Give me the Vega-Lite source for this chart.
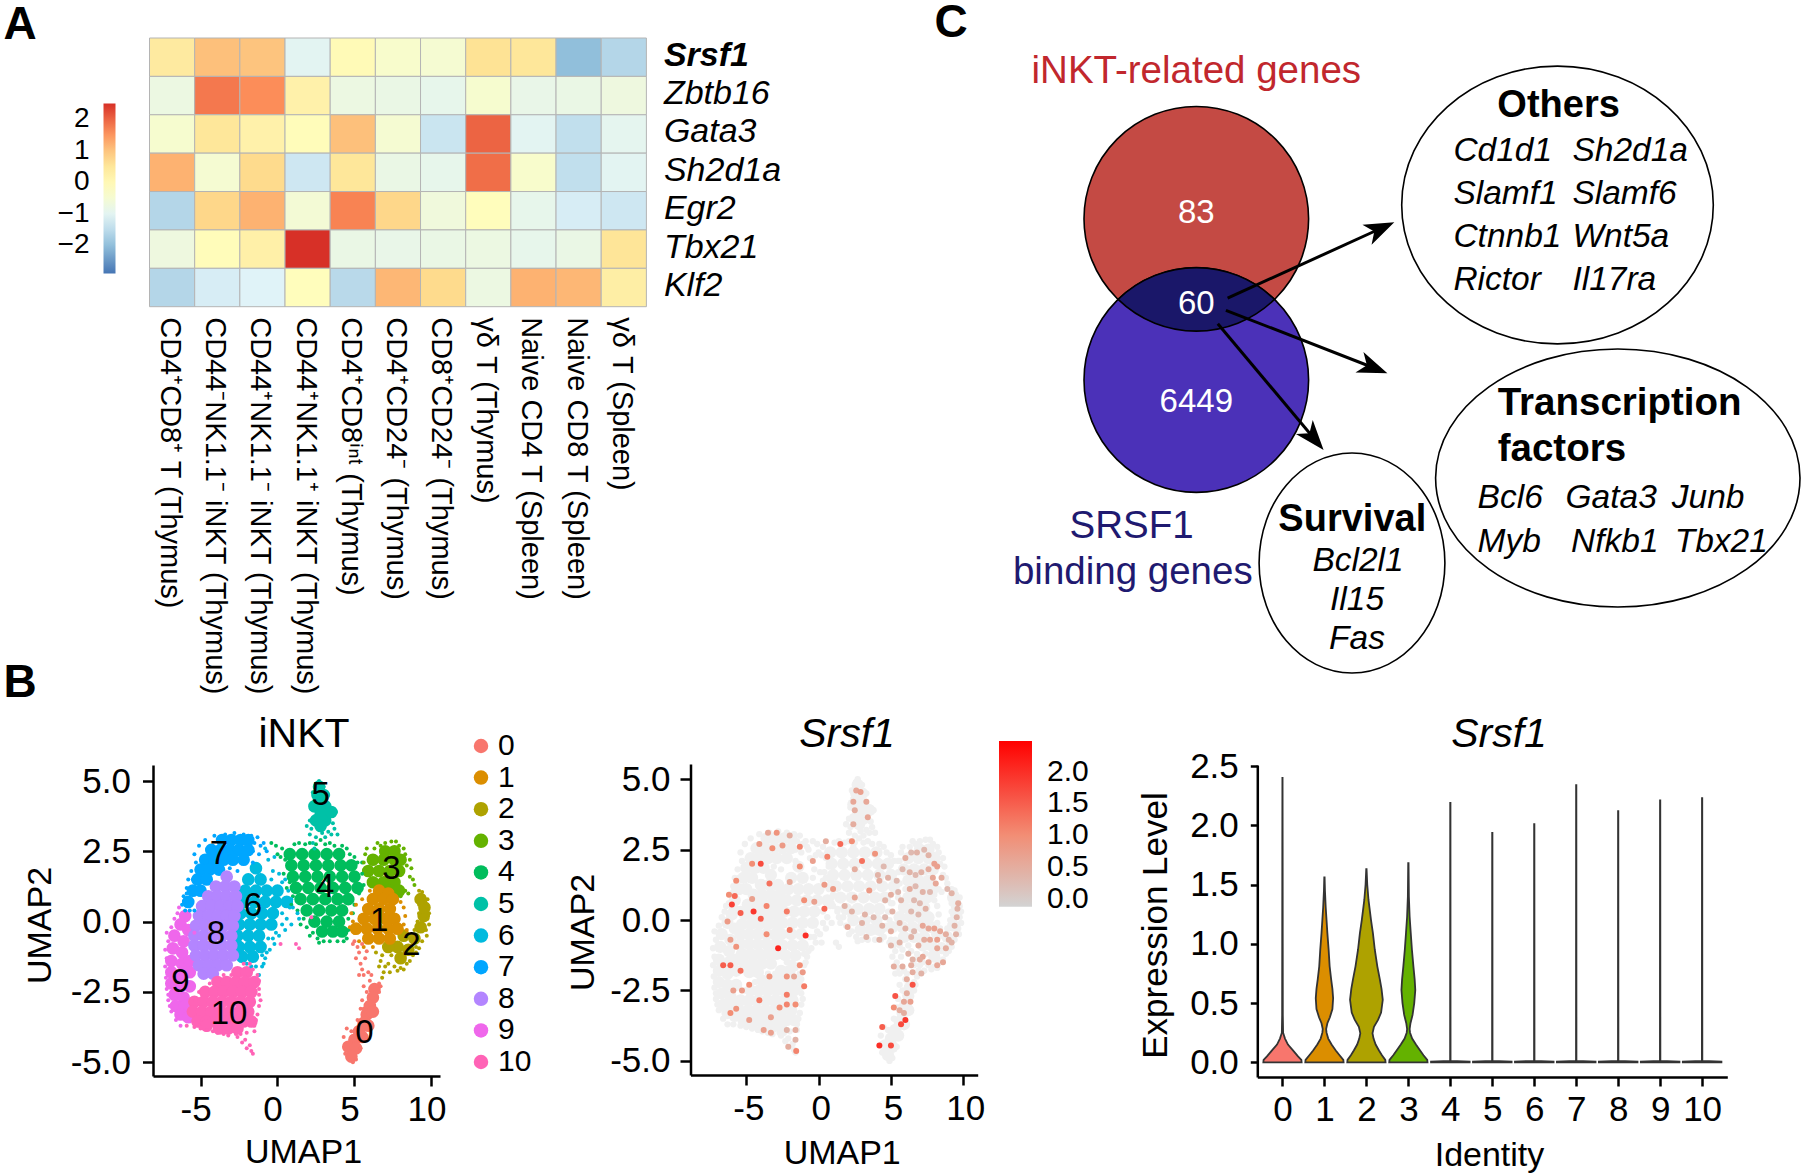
{"$schema":"https://vega.github.io/schema/vega-lite/v6.json","width":1801,"height":1174,"padding":0,"autosize":{"type":"none"},"background":"white",
"config":{"view":{"stroke":null},"font":"Liberation Sans","axis":{"grid":false,"labelFont":"Liberation Sans","titleFont":"Liberation Sans","titleFontWeight":"normal","labelColor":"#000","titleColor":"#000","domainColor":"#000","tickColor":"#000","domainWidth":2.5,"tickWidth":2.5,"labelLimit":800,"labelOverlap":false,"labelFlush":false},"legend":{"labelFont":"Liberation Sans","labelColor":"#000","labelLimit":300}},
"resolve":{"scale":{"x":"independent","y":"independent","color":"independent"},"axis":{"x":"independent","y":"independent"},"legend":{"color":"independent"}},
"datasets":{
"heat":[
{"g":"Srsf1","c":"CD4⁺CD8⁺ T (Thymus)","v":0.4},{"g":"Srsf1","c":"CD44⁻NK1.1⁻ iNKT (Thymus)","v":1.05},{"g":"Srsf1","c":"CD44⁺NK1.1⁻ iNKT (Thymus)","v":1.0},{"g":"Srsf1","c":"CD44⁺NK1.1⁺ iNKT (Thymus)","v":-1.0},{"g":"Srsf1","c":"CD4⁺CD8ⁱⁿᵗ (Thymus)","v":-0.05},{"g":"Srsf1","c":"CD4⁺CD24⁻ (Thymus)","v":-0.4},{"g":"Srsf1","c":"CD8⁺CD24⁻ (Thymus)","v":-0.5},{"g":"Srsf1","c":"γδ T (Thymus)","v":0.6},{"g":"Srsf1","c":"Naive CD4 T (Spleen)","v":0.5},{"g":"Srsf1","c":"Naive CD8 T (Spleen)","v":-2.0},{"g":"Srsf1","c":"γδ T (Spleen)","v":-1.6},
{"g":"Zbtb16","c":"CD4⁺CD8⁺ T (Thymus)","v":-0.75},{"g":"Zbtb16","c":"CD44⁻NK1.1⁻ iNKT (Thymus)","v":1.8},{"g":"Zbtb16","c":"CD44⁺NK1.1⁻ iNKT (Thymus)","v":1.6},{"g":"Zbtb16","c":"CD44⁺NK1.1⁺ iNKT (Thymus)","v":0.2},{"g":"Zbtb16","c":"CD4⁺CD8ⁱⁿᵗ (Thymus)","v":-0.75},{"g":"Zbtb16","c":"CD4⁺CD24⁻ (Thymus)","v":-0.8},{"g":"Zbtb16","c":"CD8⁺CD24⁻ (Thymus)","v":-0.9},{"g":"Zbtb16","c":"γδ T (Thymus)","v":-0.45},{"g":"Zbtb16","c":"Naive CD4 T (Spleen)","v":-0.85},{"g":"Zbtb16","c":"Naive CD8 T (Spleen)","v":-0.8},{"g":"Zbtb16","c":"γδ T (Spleen)","v":-0.7},
{"g":"Gata3","c":"CD4⁺CD8⁺ T (Thymus)","v":-0.45},{"g":"Gata3","c":"CD44⁻NK1.1⁻ iNKT (Thymus)","v":0.5},{"g":"Gata3","c":"CD44⁺NK1.1⁻ iNKT (Thymus)","v":0.2},{"g":"Gata3","c":"CD44⁺NK1.1⁺ iNKT (Thymus)","v":-0.1},{"g":"Gata3","c":"CD4⁺CD8ⁱⁿᵗ (Thymus)","v":1.05},{"g":"Gata3","c":"CD4⁺CD24⁻ (Thymus)","v":-0.5},{"g":"Gata3","c":"CD8⁺CD24⁻ (Thymus)","v":-1.35},{"g":"Gata3","c":"γδ T (Thymus)","v":2.0},{"g":"Gata3","c":"Naive CD4 T (Spleen)","v":-1.0},{"g":"Gata3","c":"Naive CD8 T (Spleen)","v":-1.45},{"g":"Gata3","c":"γδ T (Spleen)","v":-0.95},
{"g":"Sh2d1a","c":"CD4⁺CD8⁺ T (Thymus)","v":1.2},{"g":"Sh2d1a","c":"CD44⁻NK1.1⁻ iNKT (Thymus)","v":-0.5},{"g":"Sh2d1a","c":"CD44⁺NK1.1⁻ iNKT (Thymus)","v":0.75},{"g":"Sh2d1a","c":"CD44⁺NK1.1⁺ iNKT (Thymus)","v":-1.3},{"g":"Sh2d1a","c":"CD4⁺CD8ⁱⁿᵗ (Thymus)","v":0.5},{"g":"Sh2d1a","c":"CD4⁺CD24⁻ (Thymus)","v":-0.8},{"g":"Sh2d1a","c":"CD8⁺CD24⁻ (Thymus)","v":-0.9},{"g":"Sh2d1a","c":"γδ T (Thymus)","v":1.9},{"g":"Sh2d1a","c":"Naive CD4 T (Spleen)","v":-0.4},{"g":"Sh2d1a","c":"Naive CD8 T (Spleen)","v":-1.45},{"g":"Sh2d1a","c":"γδ T (Spleen)","v":-1.0},
{"g":"Egr2","c":"CD4⁺CD8⁺ T (Thymus)","v":-1.6},{"g":"Egr2","c":"CD44⁻NK1.1⁻ iNKT (Thymus)","v":0.8},{"g":"Egr2","c":"CD44⁺NK1.1⁻ iNKT (Thymus)","v":1.2},{"g":"Egr2","c":"CD44⁺NK1.1⁺ iNKT (Thymus)","v":-0.55},{"g":"Egr2","c":"CD4⁺CD8ⁱⁿᵗ (Thymus)","v":1.7},{"g":"Egr2","c":"CD4⁺CD24⁻ (Thymus)","v":0.8},{"g":"Egr2","c":"CD8⁺CD24⁻ (Thymus)","v":-0.65},{"g":"Egr2","c":"γδ T (Thymus)","v":-0.15},{"g":"Egr2","c":"Naive CD4 T (Spleen)","v":-0.9},{"g":"Egr2","c":"Naive CD8 T (Spleen)","v":-1.2},{"g":"Egr2","c":"γδ T (Spleen)","v":-1.3},
{"g":"Tbx21","c":"CD4⁺CD8⁺ T (Thymus)","v":-0.7},{"g":"Tbx21","c":"CD44⁻NK1.1⁻ iNKT (Thymus)","v":-0.1},{"g":"Tbx21","c":"CD44⁺NK1.1⁻ iNKT (Thymus)","v":0.25},{"g":"Tbx21","c":"CD44⁺NK1.1⁺ iNKT (Thymus)","v":2.5},{"g":"Tbx21","c":"CD4⁺CD8ⁱⁿᵗ (Thymus)","v":-0.8},{"g":"Tbx21","c":"CD4⁺CD24⁻ (Thymus)","v":-0.85},{"g":"Tbx21","c":"CD8⁺CD24⁻ (Thymus)","v":-0.8},{"g":"Tbx21","c":"γδ T (Thymus)","v":-0.75},{"g":"Tbx21","c":"Naive CD4 T (Spleen)","v":-0.9},{"g":"Tbx21","c":"Naive CD8 T (Spleen)","v":-0.8},{"g":"Tbx21","c":"γδ T (Spleen)","v":0.55},
{"g":"Klf2","c":"CD4⁺CD8⁺ T (Thymus)","v":-1.6},{"g":"Klf2","c":"CD44⁻NK1.1⁻ iNKT (Thymus)","v":-1.2},{"g":"Klf2","c":"CD44⁺NK1.1⁻ iNKT (Thymus)","v":-1.1},{"g":"Klf2","c":"CD44⁺NK1.1⁺ iNKT (Thymus)","v":-0.15},{"g":"Klf2","c":"CD4⁺CD8ⁱⁿᵗ (Thymus)","v":-1.55},{"g":"Klf2","c":"CD4⁺CD24⁻ (Thymus)","v":1.15},{"g":"Klf2","c":"CD8⁺CD24⁻ (Thymus)","v":0.75},{"g":"Klf2","c":"γδ T (Thymus)","v":-0.75},{"g":"Klf2","c":"Naive CD4 T (Spleen)","v":1.2},{"g":"Klf2","c":"Naive CD8 T (Spleen)","v":1.15},{"g":"Klf2","c":"γδ T (Spleen)","v":0.3}
],
"core":[
{"c":"0","x":6.3,"y":-2.4},{"c":"0","x":6.2,"y":-2.7},{"c":"0","x":6.0,"y":-3.0},{"c":"0","x":5.8,"y":-3.3},{"c":"0","x":6.2,"y":-3.2},{"c":"0","x":5.6,"y":-3.6},{"c":"0","x":5.3,"y":-3.9},{"c":"0","x":5.9,"y":-3.7},{"c":"0","x":5.0,"y":-4.2},{"c":"0","x":5.5,"y":-4.1},{"c":"0","x":4.6,"y":-4.45},{"c":"0","x":5.1,"y":-4.5},{"c":"0","x":4.8,"y":-4.8},
{"c":"4","x":0.8,"y":2.4},{"c":"4","x":1.6,"y":2.4},{"c":"4","x":2.4,"y":2.4},{"c":"4","x":3.2,"y":2.4},{"c":"4","x":4.0,"y":2.4},{"c":"4","x":0.9,"y":2.0},{"c":"4","x":1.7,"y":2.0},{"c":"4","x":2.5,"y":2.0},{"c":"4","x":3.3,"y":2.0},{"c":"4","x":4.1,"y":2.0},{"c":"4","x":4.8,"y":2.0},{"c":"4","x":1.0,"y":1.6},{"c":"4","x":1.8,"y":1.6},{"c":"4","x":2.6,"y":1.6},{"c":"4","x":3.4,"y":1.6},{"c":"4","x":4.2,"y":1.6},{"c":"4","x":5.0,"y":1.6},{"c":"4","x":1.2,"y":1.2},{"c":"4","x":2.0,"y":1.2},{"c":"4","x":2.8,"y":1.2},{"c":"4","x":3.6,"y":1.2},{"c":"4","x":4.4,"y":1.2},{"c":"4","x":5.2,"y":1.2},{"c":"4","x":1.5,"y":0.8},{"c":"4","x":2.3,"y":0.8},{"c":"4","x":3.1,"y":0.8},{"c":"4","x":3.9,"y":0.8},{"c":"4","x":4.6,"y":0.8},{"c":"4","x":1.9,"y":0.4},{"c":"4","x":2.7,"y":0.4},{"c":"4","x":3.5,"y":0.4},{"c":"4","x":4.2,"y":0.4},{"c":"4","x":2.4,"y":0.0},{"c":"4","x":3.2,"y":0.0},{"c":"4","x":4.0,"y":0.0},{"c":"4","x":2.9,"y":-0.35},{"c":"4","x":3.6,"y":-0.35},{"c":"4","x":4.2,"y":-0.35},
{"c":"3","x":7.0,"y":2.5},{"c":"3","x":7.6,"y":2.5},{"c":"3","x":6.2,"y":2.2},{"c":"3","x":6.9,"y":2.2},{"c":"3","x":7.6,"y":2.2},{"c":"3","x":8.0,"y":2.2},{"c":"3","x":5.9,"y":1.8},{"c":"3","x":6.6,"y":1.8},{"c":"3","x":7.3,"y":1.8},{"c":"3","x":7.9,"y":1.8},{"c":"3","x":6.2,"y":1.4},{"c":"3","x":6.9,"y":1.4},{"c":"3","x":7.6,"y":1.4},{"c":"3","x":7.3,"y":1.1},{"c":"3","x":7.9,"y":1.1},
{"c":"2","x":8.2,"y":-0.5},{"c":"2","x":8.9,"y":-0.6},{"c":"2","x":9.3,"y":-0.2},{"c":"2","x":9.5,"y":0.2},{"c":"2","x":9.55,"y":0.5},{"c":"2","x":9.3,"y":0.8},{"c":"2","x":7.8,"y":-0.9},{"c":"2","x":8.5,"y":-1.0},{"c":"2","x":7.2,"y":-0.9},{"c":"2","x":8.0,"y":-1.3},
{"c":"1","x":6.6,"y":1.1},{"c":"1","x":7.2,"y":1.0},{"c":"1","x":6.2,"y":0.8},{"c":"1","x":6.9,"y":0.8},{"c":"1","x":7.5,"y":0.8},{"c":"1","x":5.9,"y":0.45},{"c":"1","x":6.6,"y":0.45},{"c":"1","x":7.3,"y":0.45},{"c":"1","x":5.6,"y":0.1},{"c":"1","x":6.3,"y":0.1},{"c":"1","x":7.0,"y":0.1},{"c":"1","x":7.6,"y":0.1},{"c":"1","x":5.1,"y":-0.25},{"c":"1","x":5.8,"y":-0.25},{"c":"1","x":6.5,"y":-0.25},{"c":"1","x":7.2,"y":-0.25},{"c":"1","x":7.8,"y":-0.25},{"c":"1","x":5.9,"y":-0.6},{"c":"1","x":6.6,"y":-0.6},{"c":"1","x":7.3,"y":-0.6},
{"c":"5","x":2.7,"y":4.8},{"c":"5","x":2.6,"y":4.5},{"c":"5","x":3.0,"y":4.5},{"c":"5","x":2.8,"y":4.2},{"c":"5","x":2.4,"y":4.1},{"c":"5","x":3.1,"y":4.1},{"c":"5","x":2.8,"y":3.8},{"c":"5","x":2.5,"y":3.6},{"c":"5","x":3.1,"y":3.6},{"c":"5","x":3.5,"y":3.9},{"c":"5","x":2.8,"y":3.4},
{"c":"7","x":-3.6,"y":2.9},{"c":"7","x":-3.0,"y":2.9},{"c":"7","x":-2.4,"y":2.9},{"c":"7","x":-1.9,"y":2.9},{"c":"7","x":-4.3,"y":2.55},{"c":"7","x":-3.7,"y":2.55},{"c":"7","x":-3.1,"y":2.55},{"c":"7","x":-2.5,"y":2.55},{"c":"7","x":-1.9,"y":2.55},{"c":"7","x":-4.7,"y":2.2},{"c":"7","x":-4.1,"y":2.2},{"c":"7","x":-3.5,"y":2.2},{"c":"7","x":-2.9,"y":2.2},{"c":"7","x":-2.2,"y":2.2},{"c":"7","x":-5.0,"y":1.85},{"c":"7","x":-4.4,"y":1.85},{"c":"7","x":-3.8,"y":1.85},{"c":"7","x":-5.2,"y":1.5},{"c":"7","x":-4.6,"y":1.5},{"c":"7","x":-5.5,"y":1.1},{"c":"7","x":-5.0,"y":1.1},{"c":"7","x":-5.8,"y":0.7},
{"c":"6","x":-1.4,"y":1.9},{"c":"6","x":-1.9,"y":1.5},{"c":"6","x":-1.1,"y":1.5},{"c":"6","x":-2.1,"y":1.1},{"c":"6","x":-1.4,"y":1.1},{"c":"6","x":-0.7,"y":1.1},{"c":"6","x":0.0,"y":1.1},{"c":"6","x":-2.2,"y":0.7},{"c":"6","x":-1.5,"y":0.7},{"c":"6","x":-0.8,"y":0.7},{"c":"6","x":-0.1,"y":0.7},{"c":"6","x":0.6,"y":0.7},{"c":"6","x":-2.4,"y":0.3},{"c":"6","x":-1.7,"y":0.3},{"c":"6","x":-1.0,"y":0.3},{"c":"6","x":-0.3,"y":0.3},{"c":"6","x":-2.5,"y":-0.1},{"c":"6","x":-1.8,"y":-0.1},{"c":"6","x":-1.1,"y":-0.1},{"c":"6","x":-0.4,"y":-0.1},{"c":"6","x":-2.6,"y":-0.5},{"c":"6","x":-1.9,"y":-0.5},{"c":"6","x":-1.2,"y":-0.5},{"c":"6","x":-2.5,"y":-0.9},{"c":"6","x":-1.8,"y":-0.9},{"c":"6","x":-1.1,"y":-0.9},{"c":"6","x":-2.3,"y":-1.25},{"c":"6","x":-1.6,"y":-1.25},
{"c":"9","x":-6.0,"y":0.2},{"c":"9","x":-6.3,"y":-0.1},{"c":"9","x":-5.8,"y":-0.3},{"c":"9","x":-6.7,"y":-0.5},{"c":"9","x":-6.1,"y":-0.7},{"c":"9","x":-6.8,"y":-0.95},{"c":"9","x":-6.2,"y":-1.1},{"c":"9","x":-6.9,"y":-1.4},{"c":"9","x":-6.2,"y":-1.5},{"c":"9","x":-5.7,"y":-1.4},{"c":"9","x":-6.9,"y":-1.8},{"c":"9","x":-6.3,"y":-1.9},{"c":"9","x":-5.7,"y":-1.8},{"c":"9","x":-6.9,"y":-2.2},{"c":"9","x":-6.3,"y":-2.3},{"c":"9","x":-5.7,"y":-2.3},{"c":"9","x":-6.7,"y":-2.6},{"c":"9","x":-6.1,"y":-2.7},{"c":"9","x":-6.6,"y":-3.0},{"c":"9","x":-6.0,"y":-3.0},{"c":"9","x":-6.3,"y":-3.3},{"c":"9","x":-5.8,"y":-3.4},
{"c":"8","x":-3.3,"y":1.6},{"c":"8","x":-4.0,"y":1.25},{"c":"8","x":-3.4,"y":1.25},{"c":"8","x":-2.8,"y":1.25},{"c":"8","x":-4.5,"y":0.9},{"c":"8","x":-3.9,"y":0.9},{"c":"8","x":-3.3,"y":0.9},{"c":"8","x":-2.7,"y":0.9},{"c":"8","x":-4.9,"y":0.55},{"c":"8","x":-4.3,"y":0.55},{"c":"8","x":-3.7,"y":0.55},{"c":"8","x":-3.1,"y":0.55},{"c":"8","x":-2.6,"y":0.55},{"c":"8","x":-5.1,"y":0.2},{"c":"8","x":-4.5,"y":0.2},{"c":"8","x":-3.9,"y":0.2},{"c":"8","x":-3.3,"y":0.2},{"c":"8","x":-2.8,"y":0.2},{"c":"8","x":-5.3,"y":-0.15},{"c":"8","x":-4.7,"y":-0.15},{"c":"8","x":-4.1,"y":-0.15},{"c":"8","x":-3.5,"y":-0.15},{"c":"8","x":-2.9,"y":-0.15},{"c":"8","x":-5.4,"y":-0.5},{"c":"8","x":-4.8,"y":-0.5},{"c":"8","x":-4.2,"y":-0.5},{"c":"8","x":-3.6,"y":-0.5},{"c":"8","x":-3.0,"y":-0.5},{"c":"8","x":-5.4,"y":-0.85},{"c":"8","x":-4.8,"y":-0.85},{"c":"8","x":-4.2,"y":-0.85},{"c":"8","x":-3.6,"y":-0.85},{"c":"8","x":-3.0,"y":-0.85},{"c":"8","x":-5.3,"y":-1.2},{"c":"8","x":-4.7,"y":-1.2},{"c":"8","x":-4.1,"y":-1.2},{"c":"8","x":-3.5,"y":-1.2},{"c":"8","x":-2.9,"y":-1.2},{"c":"8","x":-5.1,"y":-1.55},{"c":"8","x":-4.5,"y":-1.55},{"c":"8","x":-3.9,"y":-1.55},{"c":"8","x":-3.3,"y":-1.55},{"c":"8","x":-4.8,"y":-1.85},{"c":"8","x":-4.2,"y":-1.85},
{"c":"10","x":-2.6,"y":-1.8},{"c":"10","x":-2.0,"y":-1.8},{"c":"10","x":-3.9,"y":-2.15},{"c":"10","x":-3.3,"y":-2.15},{"c":"10","x":-2.7,"y":-2.15},{"c":"10","x":-2.1,"y":-2.15},{"c":"10","x":-1.5,"y":-2.15},{"c":"10","x":-4.7,"y":-2.5},{"c":"10","x":-4.1,"y":-2.5},{"c":"10","x":-3.5,"y":-2.5},{"c":"10","x":-2.9,"y":-2.5},{"c":"10","x":-2.3,"y":-2.5},{"c":"10","x":-1.7,"y":-2.5},{"c":"10","x":-5.4,"y":-2.85},{"c":"10","x":-4.8,"y":-2.85},{"c":"10","x":-4.2,"y":-2.85},{"c":"10","x":-3.6,"y":-2.85},{"c":"10","x":-3.0,"y":-2.85},{"c":"10","x":-2.4,"y":-2.85},{"c":"10","x":-1.8,"y":-2.85},{"c":"10","x":-5.5,"y":-3.2},{"c":"10","x":-4.9,"y":-3.2},{"c":"10","x":-4.3,"y":-3.2},{"c":"10","x":-3.7,"y":-3.2},{"c":"10","x":-3.1,"y":-3.2},{"c":"10","x":-2.5,"y":-3.2},{"c":"10","x":-1.9,"y":-3.2},{"c":"10","x":-5.2,"y":-3.55},{"c":"10","x":-4.6,"y":-3.55},{"c":"10","x":-4.0,"y":-3.55},{"c":"10","x":-3.4,"y":-3.55},{"c":"10","x":-2.8,"y":-3.55},{"c":"10","x":-2.2,"y":-3.55},{"c":"10","x":-1.7,"y":-3.55},{"c":"10","x":-4.6,"y":-3.7},{"c":"10","x":-3.8,"y":-3.8},{"c":"10","x":-3.2,"y":-3.8},{"c":"10","x":-2.6,"y":-3.8}
],
"fringe":[
{"c":"4","x":-0.4,"y":2.8},{"c":"4","x":-0.1,"y":2.7},{"c":"4","x":0.3,"y":2.6},{"c":"4","x":0.5,"y":2.2},{"c":"4","x":0.7,"y":1.9},{"c":"4","x":0.8,"y":1.4},{"c":"4","x":1.0,"y":0.9},{"c":"4","x":1.3,"y":0.4},{"c":"4","x":1.7,"y":0.1},{"c":"4","x":1.9,"y":-0.2},{"c":"4","x":2.3,"y":-0.4},{"c":"4","x":2.6,"y":-0.6},{"c":"4","x":3.0,"y":-0.7},{"c":"4","x":3.4,"y":-0.7},{"c":"4","x":3.9,"y":-0.7},{"c":"4","x":4.3,"y":-0.7},{"c":"4","x":1.4,"y":2.8},{"c":"4","x":2.1,"y":2.8},{"c":"4","x":2.8,"y":2.9},{"c":"4","x":3.4,"y":2.8},{"c":"4","x":4.2,"y":2.7},{"c":"4","x":4.7,"y":2.4},{"c":"4","x":5.2,"y":2.1},{"c":"4","x":5.5,"y":1.7},{"c":"4","x":5.6,"y":1.3},
{"c":"4","x":0.2,"y":2.3},{"c":"4","x":0.4,"y":1.7},{"c":"4","x":0.6,"y":1.2},{"c":"4","x":0.9,"y":0.6},{"c":"4","x":0.0,"y":2.4},{"c":"4","x":1.1,"y":2.75},{"c":"4","x":1.8,"y":2.75},{"c":"4","x":2.5,"y":2.75},{"c":"4","x":3.1,"y":2.75},{"c":"4","x":3.7,"y":2.7},{"c":"4","x":4.5,"y":2.6},{"c":"4","x":5.0,"y":2.3},{"c":"4","x":5.5,"y":2.1},{"c":"4","x":5.3,"y":1.0},{"c":"4","x":5.0,"y":0.6},{"c":"4","x":4.9,"y":0.3},{"c":"4","x":4.6,"y":0.1},{"c":"4","x":4.6,"y":-0.3},{"c":"4","x":4.5,"y":-0.6},{"c":"4","x":1.5,"y":-0.1},{"c":"4","x":2.1,"y":-0.5},{"c":"4","x":2.7,"y":-0.75},
{"c":"3","x":5.7,"y":2.4},{"c":"3","x":6.3,"y":2.6},{"c":"3","x":6.7,"y":2.7},{"c":"3","x":7.4,"y":2.85},{"c":"3","x":7.9,"y":2.7},{"c":"3","x":8.3,"y":2.4},{"c":"3","x":8.4,"y":2.0},{"c":"3","x":8.6,"y":1.6},{"c":"3","x":8.8,"y":1.5},{"c":"3","x":8.3,"y":1.1},{"c":"3","x":8.0,"y":0.9},{"c":"3","x":5.8,"y":2.6},{"c":"3","x":6.5,"y":2.8},{"c":"3","x":7.0,"y":2.8},{"c":"3","x":7.7,"y":2.85},{"c":"3","x":8.2,"y":2.6},{"c":"3","x":8.6,"y":2.2},{"c":"3","x":8.7,"y":1.9},{"c":"3","x":8.9,"y":1.3},{"c":"3","x":8.5,"y":1.0},{"c":"3","x":5.6,"y":2.1},
{"c":"1","x":4.9,"y":0.0},{"c":"1","x":5.0,"y":-0.4},{"c":"1","x":5.3,"y":-0.7},{"c":"1","x":8.2,"y":-0.1},{"c":"1","x":8.3,"y":0.2},{"c":"1","x":8.0,"y":0.7},{"c":"1","x":6.2,"y":-0.9},{"c":"1","x":4.8,"y":0.3},{"c":"1","x":5.1,"y":0.6},{"c":"1","x":5.5,"y":0.8},{"c":"1","x":6.0,"y":1.1},{"c":"1","x":8.2,"y":0.5},{"c":"1","x":8.4,"y":-0.3},{"c":"1","x":4.7,"y":-0.2},{"c":"1","x":5.6,"y":-0.9},
{"c":"2","x":6.4,"y":-1.1},{"c":"2","x":6.7,"y":-1.4},{"c":"2","x":6.9,"y":-1.8},{"c":"2","x":6.8,"y":-2.0},{"c":"2","x":6.6,"y":-1.6},{"c":"2","x":7.2,"y":-1.5},{"c":"2","x":7.6,"y":-1.6},{"c":"2","x":8.0,"y":-1.65},{"c":"2","x":8.4,"y":-1.5},{"c":"2","x":8.8,"y":-1.2},{"c":"2","x":9.0,"y":-0.9},{"c":"2","x":9.4,"y":-0.7},{"c":"2","x":9.65,"y":-0.3},{"c":"2","x":9.75,"y":0.1},{"c":"2","x":9.7,"y":0.5},{"c":"2","x":9.5,"y":0.9},{"c":"2","x":9.2,"y":1.1},{"c":"2","x":9.6,"y":0.7},{"c":"2","x":7.8,"y":-1.2},{"c":"2","x":7.4,"y":-1.2},{"c":"2","x":6.8,"y":-1.2},{"c":"2","x":7.0,"y":-1.6},{"c":"2","x":7.3,"y":-1.8},{"c":"2","x":7.8,"y":-1.75},{"c":"2","x":8.2,"y":-1.7},{"c":"2","x":8.6,"y":-1.4},{"c":"2","x":9.0,"y":-1.1},{"c":"2","x":9.2,"y":-0.95},{"c":"2","x":9.7,"y":-0.5},{"c":"2","x":9.85,"y":-0.1},{"c":"2","x":9.85,"y":0.3},{"c":"2","x":9.75,"y":0.8},{"c":"2","x":9.4,"y":1.05},{"c":"2","x":8.9,"y":-0.3},{"c":"2","x":9.1,"y":0.0},{"c":"2","x":9.2,"y":0.3},{"c":"2","x":9.2,"y":0.6},
{"c":"0","x":4.9,"y":-0.8},{"c":"0","x":5.2,"y":-0.9},{"c":"0","x":5.5,"y":-0.8},{"c":"0","x":5.1,"y":-1.3},{"c":"0","x":5.4,"y":-1.5},{"c":"0","x":5.7,"y":-1.3},{"c":"0","x":5.3,"y":-1.9},{"c":"0","x":5.6,"y":-1.9},{"c":"0","x":5.9,"y":-1.8},{"c":"0","x":6.0,"y":-2.1},{"c":"0","x":5.6,"y":-2.3},{"c":"0","x":6.6,"y":-2.2},{"c":"0","x":5.5,"y":-2.8},{"c":"0","x":5.4,"y":-3.1},{"c":"0","x":4.5,"y":-3.8},{"c":"0","x":4.4,"y":-4.4},{"c":"0","x":4.9,"y":-5.0},{"c":"0","x":6.1,"y":-3.7},{"c":"0","x":5.0,"y":-0.7},{"c":"0","x":5.3,"y":-1.1},{"c":"0","x":5.8,"y":-1.05},{"c":"0","x":5.5,"y":-1.7},{"c":"0","x":6.1,"y":-1.9},{"c":"0","x":5.8,"y":-2.5},{"c":"0","x":6.6,"y":-2.5},{"c":"0","x":6.7,"y":-2.3},{"c":"0","x":5.6,"y":-3.1},{"c":"0","x":5.2,"y":-3.5},{"c":"0","x":4.8,"y":-3.9},{"c":"0","x":4.3,"y":-4.1},{"c":"0","x":4.4,"y":-4.7},{"c":"0","x":5.4,"y":-4.5},{"c":"0","x":5.1,"y":-4.9},
{"c":"5","x":1.9,"y":3.4},{"c":"5","x":2.1,"y":3.6},{"c":"5","x":2.4,"y":4.3},{"c":"5","x":2.6,"y":4.9},{"c":"5","x":2.7,"y":5.0},{"c":"5","x":3.2,"y":4.2},{"c":"5","x":3.5,"y":4.0},{"c":"5","x":3.8,"y":3.9},{"c":"5","x":3.6,"y":3.5},{"c":"5","x":3.3,"y":3.2},{"c":"5","x":2.2,"y":3.3},{"c":"5","x":2.5,"y":3.0},{"c":"5","x":2.3,"y":2.8},{"c":"5","x":2.4,"y":2.6},{"c":"5","x":3.1,"y":3.0},{"c":"5","x":3.9,"y":3.1},{"c":"5","x":2.1,"y":3.1},{"c":"5","x":2.2,"y":4.0},{"c":"5","x":2.3,"y":4.6},{"c":"5","x":3.0,"y":4.8},{"c":"5","x":3.3,"y":4.5},{"c":"5","x":3.7,"y":3.3},{"c":"5","x":2.9,"y":3.15},{"c":"5","x":3.5,"y":3.1},
{"c":"6","x":-0.8,"y":2.6},{"c":"6","x":-0.6,"y":2.2},{"c":"6","x":-0.3,"y":1.8},{"c":"6","x":0.3,"y":1.4},{"c":"6","x":0.7,"y":1.1},{"c":"6","x":1.0,"y":0.5},{"c":"6","x":0.6,"y":0.1},{"c":"6","x":1.3,"y":0.3},{"c":"6","x":0.5,"y":-0.3},{"c":"6","x":0.1,"y":-0.5},{"c":"6","x":-0.2,"y":-0.8},{"c":"6","x":-0.5,"y":-1.0},{"c":"6","x":-0.8,"y":-1.3},{"c":"6","x":-1.0,"y":-1.6},{"c":"6","x":-1.2,"y":-1.9},{"c":"6","x":-2.0,"y":-1.5},{"c":"6","x":1.4,"y":0.1},{"c":"6","x":-0.2,"y":2.3},{"c":"6","x":-0.4,"y":1.5},{"c":"6","x":0.1,"y":1.7},{"c":"6","x":0.5,"y":1.5},{"c":"6","x":0.9,"y":0.8},{"c":"6","x":0.3,"y":0.3},{"c":"6","x":0.8,"y":0.5},{"c":"6","x":0.9,"y":-0.1},{"c":"6","x":0.3,"y":-0.1},{"c":"6","x":-0.1,"y":-0.4},{"c":"6","x":-0.3,"y":-0.6},{"c":"6","x":-0.6,"y":-0.6},{"c":"6","x":-0.7,"y":-1.1},{"c":"6","x":-1.0,"y":-1.2},{"c":"6","x":-0.9,"y":-1.5},{"c":"6","x":-1.4,"y":-1.6},{"c":"6","x":-1.7,"y":-1.6},
{"c":"7","x":-1.3,"y":3.0},{"c":"7","x":-0.9,"y":2.8},{"c":"7","x":-1.6,"y":2.5},{"c":"7","x":-1.2,"y":2.4},{"c":"7","x":-1.6,"y":2.1},{"c":"7","x":-5.4,"y":2.4},{"c":"7","x":-5.1,"y":2.7},{"c":"7","x":-4.7,"y":2.9},{"c":"7","x":-4.1,"y":3.05},{"c":"7","x":-5.8,"y":1.5},{"c":"7","x":-5.6,"y":1.8},{"c":"7","x":-6.1,"y":0.9},{"c":"7","x":-6.2,"y":0.6},{"c":"7","x":-5.4,"y":0.4},{"c":"7","x":-0.7,"y":2.5},{"c":"7","x":-1.1,"y":2.7},{"c":"7","x":-1.5,"y":2.8},{"c":"7","x":-1.7,"y":3.05},{"c":"7","x":-2.2,"y":3.1},{"c":"7","x":-2.8,"y":3.15},{"c":"7","x":-3.4,"y":3.1},{"c":"7","x":-5.3,"y":2.1},{"c":"7","x":-5.5,"y":1.5},{"c":"7","x":-5.9,"y":1.2},{"c":"7","x":-5.9,"y":1.0},{"c":"7","x":-6.0,"y":0.4},{"c":"7","x":-5.7,"y":0.4},{"c":"7","x":-3.1,"y":1.9},{"c":"7","x":-2.6,"y":1.8},
{"c":"9","x":-7.2,"y":-0.4},{"c":"9","x":-7.3,"y":-1.0},{"c":"9","x":-7.3,"y":-1.6},{"c":"9","x":-7.2,"y":-2.4},{"c":"9","x":-7.1,"y":-2.8},{"c":"9","x":-6.9,"y":-3.2},{"c":"9","x":-6.6,"y":-3.5},{"c":"9","x":-6.3,"y":-3.7},{"c":"9","x":-5.4,"y":-0.4},{"c":"9","x":-7.1,"y":-0.7},{"c":"9","x":-7.2,"y":-1.3},{"c":"9","x":-7.25,"y":-2.0},{"c":"9","x":-7.1,"y":-2.6},{"c":"9","x":-7.0,"y":-3.0},{"c":"9","x":-6.7,"y":0.1},{"c":"9","x":-6.5,"y":0.3},{"c":"9","x":-6.9,"y":-0.2},{"c":"9","x":-6.4,"y":0.5},
{"c":"10","x":-5.9,"y":-3.7},{"c":"10","x":-5.4,"y":-3.75},{"c":"10","x":-5.0,"y":-3.8},{"c":"10","x":-4.6,"y":-3.85},{"c":"10","x":-3.9,"y":-3.95},{"c":"10","x":-3.2,"y":-4.05},{"c":"10","x":-2.7,"y":-4.0},{"c":"10","x":-2.6,"y":-4.1},{"c":"10","x":-2.3,"y":-4.3},{"c":"10","x":-2.0,"y":-4.5},{"c":"10","x":-1.7,"y":-4.6},{"c":"10","x":-1.6,"y":-4.7},{"c":"10","x":-2.1,"y":-4.2},{"c":"10","x":-1.8,"y":-4.4},{"c":"10","x":-1.2,"y":-2.4},{"c":"10","x":-1.1,"y":-2.8},{"c":"10","x":-1.3,"y":-3.3},{"c":"10","x":-1.5,"y":-3.7},{"c":"10","x":-1.6,"y":-1.7},{"c":"10","x":-1.3,"y":-1.9},{"c":"10","x":1.2,"y":-0.8},{"c":"10","x":1.4,"y":-0.95},{"c":"10","x":2.2,"y":0.16},{"c":"10","x":0.2,"y":-0.8},{"c":"10","x":-1.2,"y":-2.1},{"c":"10","x":-1.2,"y":-2.6},{"c":"10","x":-1.2,"y":-3.0},{"c":"10","x":-1.4,"y":-3.5},{"c":"10","x":-1.5,"y":-3.9},{"c":"10","x":-2.0,"y":-3.95},{"c":"10","x":-2.4,"y":-4.0},{"c":"10","x":-3.5,"y":-4.0},{"c":"10","x":-4.2,"y":-3.9},{"c":"10","x":-5.1,"y":-3.7},{"c":"10","x":-1.8,"y":-1.5},{"c":"10","x":-2.2,"y":-1.5},{"c":"10","x":-3.0,"y":-1.9},{"c":"10","x":-3.5,"y":-1.9},{"c":"10","x":-4.4,"y":-2.2},{"c":"10","x":-5.1,"y":-2.5},{"c":"10","x":-5.6,"y":-2.8}
],
"expr":[
{"x":-4.1,"y":2.7,"v":0.8},{"x":-3.5,"y":3.1,"v":0.6},{"x":-2.9,"y":3.1,"v":0.9},{"x":-2.0,"y":3.0,"v":0.5},{"x":-1.3,"y":2.6,"v":1.1},{"x":-3.2,"y":2.55,"v":1.0},{"x":-2.5,"y":2.65,"v":0.8},{"x":-4.0,"y":2.0,"v":1.7},{"x":-4.6,"y":2.0,"v":1.0},{"x":-3.4,"y":1.3,"v":1.3},{"x":-2.0,"y":1.35,"v":0.6},{"x":-1.3,"y":1.9,"v":1.0},{"x":-0.4,"y":2.1,"v":0.7},{"x":0.6,"y":2.25,"v":1.1},{"x":1.5,"y":2.7,"v":1.4},{"x":0.5,"y":2.8,"v":0.5},{"x":2.3,"y":2.8,"v":1.0},{"x":3.0,"y":2.1,"v":1.3},{"x":3.9,"y":2.35,"v":0.9},{"x":-5.7,"y":1.4,"v":1.0},{"x":-6.2,"y":0.9,"v":1.0},{"x":-5.8,"y":0.85,"v":1.4},{"x":-6.0,"y":0.55,"v":1.8},{"x":-5.4,"y":0.25,"v":1.5},{"x":-4.5,"y":0.3,"v":1.9},{"x":-4.6,"y":0.75,"v":0.7},{"x":-3.6,"y":0.5,"v":1.1},{"x":-2.2,"y":0.3,"v":1.2},{"x":-1.0,"y":0.7,"v":1.0},{"x":-0.3,"y":0.65,"v":0.7},{"x":0.4,"y":0.4,"v":1.4},{"x":0.4,"y":1.25,"v":0.8},{"x":1.0,"y":1.1,"v":0.8},{"x":2.5,"y":1.8,"v":0.5},{"x":3.5,"y":1.05,"v":0.8},{"x":2.5,"y":0.8,"v":0.6},{"x":1.8,"y":0.5,"v":0.4},{"x":-0.9,"y":-0.55,"v":2.0},{"x":-2.0,"y":-0.35,"v":1.2},{"x":-2.8,"y":-1.0,"v":2.1},{"x":-4.0,"y":0.05,"v":1.5},{"x":-6.3,"y":-0.05,"v":0.8},{"x":-6.1,"y":-0.7,"v":0.7},{"x":-5.7,"y":-0.95,"v":0.9},{"x":-6.6,"y":-1.6,"v":1.5},{"x":-6.1,"y":-1.6,"v":1.5},{"x":-5.4,"y":-1.8,"v":1.3},{"x":-4.8,"y":-2.3,"v":1.0},{"x":-5.3,"y":-2.5,"v":0.8},{"x":-5.9,"y":-2.5,"v":0.7},{"x":-6.1,"y":-3.3,"v":1.0},{"x":-4.1,"y":-2.85,"v":1.2},{"x":-4.8,"y":-3.55,"v":0.7},{"x":-3.4,"y":-2.0,"v":0.9},{"x":-2.2,"y":-2.0,"v":0.9},{"x":-1.3,"y":-1.6,"v":1.0},{"x":-1.7,"y":-2.0,"v":0.6},{"x":-1.1,"y":-1.85,"v":0.8},{"x":-1.0,"y":-2.35,"v":1.2},{"x":-2.2,"y":-2.65,"v":1.2},{"x":-1.6,"y":-3.0,"v":1.0},{"x":-2.2,"y":-3.0,"v":1.1},{"x":-2.7,"y":-3.1,"v":1.0},{"x":-3.3,"y":-3.45,"v":0.7},{"x":-3.8,"y":-3.9,"v":0.7},{"x":-3.3,"y":-4.0,"v":0.7},{"x":-2.2,"y":-3.9,"v":0.4},{"x":-1.6,"y":-3.9,"v":0.5},{"x":-1.6,"y":-4.25,"v":0.4},{"x":-2.1,"y":-4.5,"v":0.5},{"x":-1.55,"y":-4.65,"v":1.1},{"x":-3.6,"y":-0.5,"v":1.0},{"x":-5.7,"y":-3.15,"v":0.9},
{"x":5.3,"y":-2.7,"v":1.6},{"x":6.5,"y":-2.3,"v":1.6},{"x":5.2,"y":-3.1,"v":1.0},{"x":5.9,"y":-2.9,"v":0.6},{"x":6.35,"y":-2.9,"v":0.7},{"x":6.0,"y":-3.55,"v":1.9},{"x":5.7,"y":-3.7,"v":1.7},{"x":4.4,"y":-3.8,"v":1.5},{"x":5.0,"y":-4.45,"v":1.7},{"x":4.2,"y":-4.45,"v":2.0},{"x":5.2,"y":-1.65,"v":0.5},{"x":5.8,"y":-1.65,"v":0.5},{"x":6.5,"y":-1.85,"v":0.5},{"x":7.1,"y":-1.9,"v":0.4},{"x":6.1,"y":-2.1,"v":0.5},{"x":6.1,"y":-2.6,"v":0.5},{"x":5.6,"y":-3.2,"v":0.5},{"x":5.9,"y":-3.3,"v":0.5},
{"x":6.0,"y":2.2,"v":0.5},{"x":6.4,"y":2.4,"v":0.3},{"x":6.8,"y":2.4,"v":0.4},{"x":7.3,"y":2.5,"v":0.3},{"x":7.6,"y":2.3,"v":0.4},{"x":8.0,"y":2.0,"v":0.7},{"x":8.2,"y":1.9,"v":0.7},{"x":7.6,"y":1.8,"v":0.5},{"x":7.9,"y":1.5,"v":0.6},{"x":8.1,"y":1.3,"v":0.6},{"x":8.5,"y":1.5,"v":0.5},{"x":7.1,"y":1.7,"v":0.4},{"x":6.7,"y":1.6,"v":0.3},{"x":6.3,"y":1.7,"v":0.4},{"x":5.8,"y":1.8,"v":0.3},{"x":5.4,"y":1.4,"v":0.3},{"x":4.8,"y":1.5,"v":0.4},{"x":4.2,"y":1.4,"v":0.5},{"x":4.5,"y":1.9,"v":0.3},{"x":4.1,"y":1.6,"v":0.4},{"x":5.0,"y":0.9,"v":0.5},{"x":4.6,"y":0.7,"v":0.4},{"x":5.5,"y":1.0,"v":0.3},{"x":6.3,"y":1.1,"v":0.5},{"x":6.7,"y":1.2,"v":0.3},{"x":7.2,"y":1.0,"v":0.4},{"x":7.7,"y":1.0,"v":0.3},{"x":6.6,"y":0.7,"v":0.3},{"x":7.0,"y":0.6,"v":0.3},{"x":6.4,"y":0.3,"v":0.3},{"x":7.4,"y":0.4,"v":0.4},{"x":6.9,"y":0.2,"v":0.3},{"x":5.7,"y":0.7,"v":0.4},{"x":5.1,"y":0.3,"v":0.4},{"x":4.6,"y":0.1,"v":0.3},{"x":5.6,"y":-0.1,"v":0.4},{"x":6.0,"y":-0.3,"v":0.4},{"x":6.6,"y":-0.4,"v":0.3},{"x":7.2,"y":-0.2,"v":0.6},{"x":7.6,"y":-0.3,"v":0.6},{"x":8.0,"y":-0.3,"v":0.7},{"x":8.4,"y":-0.4,"v":0.6},{"x":8.8,"y":-0.5,"v":0.5},{"x":9.0,"y":-0.7,"v":0.4},{"x":8.2,"y":-0.7,"v":0.7},{"x":7.7,"y":-0.7,"v":0.6},{"x":7.3,"y":-0.7,"v":0.5},{"x":6.9,"y":-0.9,"v":0.5},{"x":6.4,"y":-0.6,"v":0.4},{"x":5.6,"y":-0.8,"v":0.4},{"x":5.0,"y":-0.9,"v":0.4},{"x":5.0,"y":-0.4,"v":0.5},{"x":4.4,"y":-0.2,"v":0.4},{"x":3.8,"y":0.1,"v":0.3},{"x":3.2,"y":0.2,"v":0.4},{"x":3.0,"y":-0.1,"v":0.4},{"x":2.3,"y":0.3,"v":0.4},{"x":2.0,"y":-0.25,"v":0.6},{"x":3.3,"y":-0.6,"v":0.4},{"x":4.2,"y":-0.7,"v":0.4},{"x":7.2,"y":-1.3,"v":0.6},{"x":7.6,"y":-1.5,"v":0.6},{"x":8.2,"y":-1.6,"v":0.6},{"x":8.6,"y":-1.5,"v":0.6},{"x":8.2,"y":-1.0,"v":0.6},{"x":8.8,"y":-1.0,"v":0.5},{"x":9.2,"y":-0.8,"v":0.4},{"x":9.4,"y":-0.2,"v":0.4},{"x":9.55,"y":0.1,"v":0.4},{"x":9.6,"y":0.4,"v":0.4},{"x":9.65,"y":0.6,"v":0.5},{"x":9.2,"y":0.95,"v":0.4},{"x":8.9,"y":1.1,"v":0.3},{"x":9.5,"y":-0.5,"v":0.4},{"x":6.2,"y":-1.2,"v":0.4},{"x":6.5,"y":-1.4,"v":0.4},{"x":6.4,"y":-1.6,"v":0.5},{"x":7.0,"y":-1.4,"v":0.5},
{"x":2.6,"y":4.6,"v":0.6},{"x":2.9,"y":4.55,"v":0.7},{"x":2.4,"y":4.2,"v":0.6},{"x":3.3,"y":4.2,"v":0.6},{"x":2.5,"y":3.9,"v":0.5},{"x":3.4,"y":3.65,"v":0.6},{"x":2.4,"y":3.4,"v":0.5}
],
"violin":[
{"k":"0","y":0,"lo":-0.456,"hi":0.456},{"k":"0","y":0.02,"lo":-0.45,"hi":0.45},{"k":"0","y":0.05,"lo":-0.37,"hi":0.37},{"k":"0","y":0.1,"lo":-0.25,"hi":0.25},{"k":"0","y":0.15,"lo":-0.13,"hi":0.13},{"k":"0","y":0.2,"lo":-0.06,"hi":0.06},{"k":"0","y":0.25,"lo":-0.015,"hi":0.015},{"k":"0","y":0.4,"lo":-0.008,"hi":0.008},{"k":"0","y":1.0,"lo":-0.006,"hi":0.006},{"k":"0","y":1.8,"lo":-0.004,"hi":0.004},{"k":"0","y":2.4,"lo":-0.002,"hi":0.002},
{"k":"1","y":0,"lo":0.544,"hi":1.456},{"k":"1","y":0.02,"lo":0.55,"hi":1.45},{"k":"1","y":0.06,"lo":0.64,"hi":1.36},{"k":"1","y":0.1,"lo":0.73,"hi":1.27},{"k":"1","y":0.15,"lo":0.83,"hi":1.17},{"k":"1","y":0.2,"lo":0.91,"hi":1.09},{"k":"1","y":0.25,"lo":0.95,"hi":1.05},{"k":"1","y":0.28,"lo":0.96,"hi":1.04},{"k":"1","y":0.33,"lo":0.93,"hi":1.07},{"k":"1","y":0.38,"lo":0.87,"hi":1.13},{"k":"1","y":0.45,"lo":0.81,"hi":1.19},{"k":"1","y":0.54,"lo":0.793,"hi":1.207},{"k":"1","y":0.62,"lo":0.81,"hi":1.19},{"k":"1","y":0.7,"lo":0.84,"hi":1.16},{"k":"1","y":0.81,"lo":0.876,"hi":1.124},{"k":"1","y":0.95,"lo":0.9,"hi":1.1},{"k":"1","y":1.09,"lo":0.93,"hi":1.07},{"k":"1","y":1.2,"lo":0.95,"hi":1.05},{"k":"1","y":1.31,"lo":0.97,"hi":1.03},{"k":"1","y":1.45,"lo":0.988,"hi":1.012},{"k":"1","y":1.56,"lo":0.996,"hi":1.004},
{"k":"2","y":0,"lo":1.544,"hi":2.456},{"k":"2","y":0.02,"lo":1.55,"hi":2.45},{"k":"2","y":0.06,"lo":1.63,"hi":2.37},{"k":"2","y":0.1,"lo":1.7,"hi":2.3},{"k":"2","y":0.15,"lo":1.78,"hi":2.22},{"k":"2","y":0.2,"lo":1.83,"hi":2.17},{"k":"2","y":0.245,"lo":1.855,"hi":2.145},{"k":"2","y":0.3,"lo":1.82,"hi":2.18},{"k":"2","y":0.36,"lo":1.72,"hi":2.28},{"k":"2","y":0.42,"lo":1.65,"hi":2.35},{"k":"2","y":0.527,"lo":1.61,"hi":2.39},{"k":"2","y":0.62,"lo":1.64,"hi":2.36},{"k":"2","y":0.7,"lo":1.68,"hi":2.32},{"k":"2","y":0.81,"lo":1.74,"hi":2.26},{"k":"2","y":0.95,"lo":1.8,"hi":2.2},{"k":"2","y":1.09,"lo":1.845,"hi":2.155},{"k":"2","y":1.2,"lo":1.89,"hi":2.11},{"k":"2","y":1.37,"lo":1.95,"hi":2.05},{"k":"2","y":1.5,"lo":1.98,"hi":2.02},{"k":"2","y":1.63,"lo":1.996,"hi":2.004},
{"k":"3","y":0,"lo":2.544,"hi":3.456},{"k":"3","y":0.02,"lo":2.55,"hi":3.45},{"k":"3","y":0.06,"lo":2.64,"hi":3.36},{"k":"3","y":0.1,"lo":2.72,"hi":3.28},{"k":"3","y":0.15,"lo":2.82,"hi":3.18},{"k":"3","y":0.2,"lo":2.91,"hi":3.09},{"k":"3","y":0.25,"lo":2.96,"hi":3.04},{"k":"3","y":0.28,"lo":2.97,"hi":3.03},{"k":"3","y":0.33,"lo":2.95,"hi":3.05},{"k":"3","y":0.4,"lo":2.9,"hi":3.1},{"k":"3","y":0.5,"lo":2.86,"hi":3.14},{"k":"3","y":0.61,"lo":2.835,"hi":3.165},{"k":"3","y":0.7,"lo":2.85,"hi":3.15},{"k":"3","y":0.81,"lo":2.88,"hi":3.12},{"k":"3","y":0.95,"lo":2.915,"hi":3.085},{"k":"3","y":1.1,"lo":2.945,"hi":3.055},{"k":"3","y":1.23,"lo":2.97,"hi":3.03},{"k":"3","y":1.4,"lo":2.988,"hi":3.012},{"k":"3","y":1.68,"lo":2.996,"hi":3.004},
{"k":"4","y":0,"lo":3.54,"hi":4.46},{"k":"4","y":0.006,"lo":3.54,"hi":4.46},{"k":"4","y":0.012,"lo":3.995,"hi":4.005},{"k":"4","y":2.19,"lo":3.997,"hi":4.003},
{"k":"5","y":0,"lo":4.54,"hi":5.46},{"k":"5","y":0.006,"lo":4.54,"hi":5.46},{"k":"5","y":0.012,"lo":4.995,"hi":5.005},{"k":"5","y":1.935,"lo":4.997,"hi":5.003},
{"k":"6","y":0,"lo":5.54,"hi":6.46},{"k":"6","y":0.006,"lo":5.54,"hi":6.46},{"k":"6","y":0.012,"lo":5.995,"hi":6.005},{"k":"6","y":2.01,"lo":5.997,"hi":6.003},
{"k":"7","y":0,"lo":6.54,"hi":7.46},{"k":"7","y":0.006,"lo":6.54,"hi":7.46},{"k":"7","y":0.012,"lo":6.995,"hi":7.005},{"k":"7","y":2.34,"lo":6.997,"hi":7.003},
{"k":"8","y":0,"lo":7.54,"hi":8.46},{"k":"8","y":0.006,"lo":7.54,"hi":8.46},{"k":"8","y":0.012,"lo":7.995,"hi":8.005},{"k":"8","y":2.12,"lo":7.997,"hi":8.003},
{"k":"9","y":0,"lo":8.54,"hi":9.46},{"k":"9","y":0.006,"lo":8.54,"hi":9.46},{"k":"9","y":0.012,"lo":8.995,"hi":9.005},{"k":"9","y":2.21,"lo":8.997,"hi":9.003},
{"k":"10","y":0,"lo":9.54,"hi":10.46},{"k":"10","y":0.006,"lo":9.54,"hi":10.46},{"k":"10","y":0.012,"lo":9.995,"hi":10.005},{"k":"10","y":2.23,"lo":9.997,"hi":10.003}
]
},
"layer":[
{"data":{"name":"heat"},"mark":{"type":"rect","stroke":"#b4b4b4","strokeWidth":1},
"encoding":{
"x":{"field":"c","type":"nominal","sort":null,"title":null,"scale":{"domain":["CD4⁺CD8⁺ T (Thymus)","CD44⁻NK1.1⁻ iNKT (Thymus)","CD44⁺NK1.1⁻ iNKT (Thymus)","CD44⁺NK1.1⁺ iNKT (Thymus)","CD4⁺CD8ⁱⁿᵗ (Thymus)","CD4⁺CD24⁻ (Thymus)","CD8⁺CD24⁻ (Thymus)","γδ T (Thymus)","Naive CD4 T (Spleen)","Naive CD8 T (Spleen)","γδ T (Spleen)"],"range":[149.5,646.4],"paddingInner":0,"paddingOuter":0},"axis":{"orient":"bottom","offset":-867.3,"domain":false,"ticks":false,"labelAngle":90,"labelAlign":"left","labelBaseline":"middle","labelFontSize":29,"labelPadding":10,"labelOffset":-2}},
"y":{"field":"g","type":"nominal","sort":null,"title":null,"scale":{"domain":["Srsf1","Zbtb16","Gata3","Sh2d1a","Egr2","Tbx21","Klf2"],"range":[38,306.7],"paddingInner":0,"paddingOuter":0},"axis":{"orient":"right","offset":-1154.6,"domain":false,"ticks":false,"labelFontSize":34,"labelFontStyle":"italic","labelPadding":17,"labelOffset":-1.5,"labelFontWeight":{"condition":{"test":"datum.value === 'Srsf1'","value":"bold"},"value":"normal"}}},
"color":{"field":"v","type":"quantitative","scale":{"domain":[-2.9,-2,-1.1,-0.2,0.7,1.6,2.5],"range":["#4575B4","#91BFDB","#E0F3F8","#FFFFBF","#FEE090","#FC8D59","#D73027"],"interpolate":"rgb"},"legend":{"orient":"none","legendX":103.5,"legendY":103.6,"title":null,"gradientLength":170,"gradientThickness":12,"values":[2,1,0,-1,-2],"labelFontSize":28,"labelOffset":-26,"gradientStrokeWidth":0,"format":"d","encode":{"labels":{"update":{"align":{"value":"right"}}}}}}
}},
{"encoding":{
"x":{"field":"x","type":"quantitative","title":"UMAP1","scale":{"domain":[-8.09,10.56],"range":[153,440],"nice":false},"axis":{"orient":"bottom","offset":-98,"values":[-5,0,5,10],"format":"d","labelExpr":"replace(datum.label,'\u2212','-')","labelFontSize":35,"labelPadding":6,"labelOffset":-5,"tickSize":10,"titleFontSize":34,"titleX":303,"titleY":76,"titleBaseline":"middle"}},
"y":{"field":"y","type":"quantitative","title":"UMAP2","scale":{"domain":[-5.49,5.57],"range":[1076,765],"nice":false},"axis":{"orient":"left","offset":-153,"values":[-5,-2.5,0,2.5,5],"format":".1f","labelExpr":"replace(datum.label,'\u2212','-')","labelFontSize":35,"labelPadding":12,"tickSize":10.5,"titleFontSize":34,"titleX":-113,"titleY":925,"titleBaseline":"middle"}}},
"layer":[
{"data":{"name":"core"},"mark":{"type":"point","shape":"circle","filled":true,"opacity":1,"size":160},
"encoding":{
"color":{"field":"c","type":"nominal","scale":{"domain":["0","1","2","3","4","5","6","7","8","9","10"],"range":["#F8766D","#DB8E00","#AEA200","#64B200","#00BD5C","#00C1A7","#00BADE","#00A6FF","#B385FF","#EF67EB","#FF63B6"]},"legend":{"orient":"none","legendX":466,"legendY":731,"title":null,"symbolType":"circle","symbolSize":210,"symbolStrokeWidth":0,"labelFontSize":30,"rowPadding":1.6,"labelOffset":2,"values":["0","1","2","3","4","5","6","7","8","9","10"]}}
}},
{"data":{"name":"fringe"},"mark":{"type":"point","shape":"circle","filled":true,"opacity":1,"size":16},
"encoding":{"color":{"field":"c","type":"nominal"}}},
{"data":{"values":[{"t":"0","x":5.65,"y":-3.94},{"t":"1","x":6.6,"y":0.07},{"t":"2","x":8.7,"y":-0.8},{"t":"3","x":7.4,"y":1.9},{"t":"4","x":3.1,"y":1.25},{"t":"5","x":2.8,"y":4.55},{"t":"6","x":-1.6,"y":0.6},{"t":"7","x":-3.8,"y":2.43},{"t":"8","x":-4.0,"y":-0.4},{"t":"9","x":-6.3,"y":-2.1},{"t":"10","x":-3.15,"y":-3.25}]},"mark":{"type":"text","fontSize":33,"dy":1,"color":"#000","font":"Liberation Sans"},
"encoding":{"text":{"field":"t"}}}
]},
{"encoding":{
"x":{"field":"x","type":"quantitative","title":"UMAP1","scale":{"domain":[-8.86,11.0],"range":[690.5,977.7],"nice":false},"axis":{"orient":"bottom","offset":-99,"values":[-5,0,5,10],"format":"d","labelExpr":"replace(datum.label,'\u2212','-')","labelFontSize":35,"labelPadding":6,"labelOffset":2,"tickSize":10,"titleFontSize":34,"titleX":841.7,"titleY":78,"titleBaseline":"middle"}},
"y":{"field":"y","type":"quantitative","title":"UMAP2","scale":{"domain":[-5.5,5.54],"range":[1075,764],"nice":false},"axis":{"orient":"left","offset":-690.5,"values":[-5,-2.5,0,2.5,5],"format":".1f","labelExpr":"replace(datum.label,'\u2212','-')","labelFontSize":35,"labelPadding":10,"tickSize":10.5,"titleFontSize":34,"titleX":-107,"titleY":932,"titleBaseline":"middle"}}},
"layer":[
{"data":{"name":"core"},"mark":{"type":"point","shape":"circle","filled":true,"opacity":1,"size":150,"color":"#F0F0F0"}},
{"data":{"name":"fringe"},"mark":{"type":"point","shape":"circle","filled":true,"opacity":1,"size":40,"color":"#F0F0F0"}},
{"data":{"name":"expr"},"mark":{"type":"point","shape":"circle","filled":true,"opacity":1,"size":36},
"encoding":{"color":{"field":"v","type":"quantitative","scale":{"domain":[-0.12,1.0,2.48],"range":["#D3D3D3","#F28E75","#FF0000"],"interpolate":"rgb"},"legend":{"orient":"none","legendX":999,"legendY":741,"title":null,"gradientLength":165.7,"gradientThickness":33,"values":[0,0.5,1,1.5,2],"format":".1f","labelFontSize":30,"labelOffset":15,"gradientStrokeWidth":0}}}}
]},
{"data":{"name":"violin"},"mark":{"type":"area","orient":"horizontal","stroke":"#333333","strokeWidth":1.8,"opacity":1},
"encoding":{
"x":{"field":"lo","type":"quantitative","title":"Identity","scale":{"domain":[-0.6,10.6],"range":[1257.3,1727.3]},"axis":{"orient":"bottom","offset":-97,"values":[0,1,2,3,4,5,6,7,8,9,10],"format":"d","labelFontSize":35,"labelPadding":6,"tickSize":9,"titleFontSize":34,"titleX":1489,"titleY":78,"titleBaseline":"middle"}},
"x2":{"field":"hi"},
"y":{"field":"y","type":"quantitative","title":"Expression Level","scale":{"domain":[-0.124,2.509],"range":[1077,765]},"axis":{"orient":"left","offset":-1257.3,"values":[0,0.5,1,1.5,2,2.5],"format":".1f","labelFontSize":35,"labelPadding":12,"tickSize":7,"titleFontSize":35,"titleX":-102,"titleY":925,"titleBaseline":"middle"}},
"color":{"field":"k","type":"nominal","legend":null,"scale":{"domain":["0","1","2","3","4","5","6","7","8","9","10"],"range":["#F8766D","#DB8E00","#AEA200","#64B200","#00BD5C","#00C1A7","#00BADE","#00A6FF","#B385FF","#EF67EB","#FF63B6"]}}
}},
{"encoding":{"x":{"field":"x","type":"quantitative","scale":{"domain":[0,1801],"range":[0,1801]},"axis":null},"y":{"field":"y","type":"quantitative","scale":{"domain":[0,1174],"range":[0,1174]},"axis":null}},
"layer":[
{"data":{"values":[{"x":1196.3,"y":218.8}]},"mark":{"type":"point","shape":"circle","size":50445,"filled":true,"fill":"#C44A44","stroke":"#000","strokeWidth":1.6,"opacity":1}},
{"data":{"values":[{"x":1196.3,"y":380}]},"mark":{"type":"point","shape":"circle","size":50445,"filled":true,"fill":"#4B31B8","stroke":"#000","strokeWidth":1.6,"opacity":1}},
{"data":{"values":[{"x":1196.3,"y":299.4}]},"mark":{"type":"point","shape":"M-78.2 0A112.3 112.3 0 0 1 78.2 0A112.3 112.3 0 0 1 -78.2 0Z","size":4,"filled":true,"fill":"#1A1769","stroke":"#000","strokeWidth":1.6,"opacity":1}},
{"data":{"values":[{"x":1557.5,"y":205}]},"mark":{"type":"point","shape":"M-155.8 0A155.8 138.9 0 1 1 155.8 0A155.8 138.9 0 1 1 -155.8 0Z","size":4,"filled":true,"fill":"#fff","stroke":"#000","strokeWidth":1.6,"opacity":1}},
{"data":{"values":[{"x":1617.8,"y":478}]},"mark":{"type":"point","shape":"M-182.2 0A182.2 129 0 1 1 182.2 0A182.2 129 0 1 1 -182.2 0Z","size":4,"filled":true,"fill":"#fff","stroke":"#000","strokeWidth":1.6,"opacity":1}},
{"data":{"values":[{"x":1352,"y":563}]},"mark":{"type":"point","shape":"M-92.9 0A92.9 110 0 1 1 92.9 0A92.9 110 0 1 1 -92.9 0Z","size":4,"filled":true,"fill":"#fff","stroke":"#000","strokeWidth":1.6,"opacity":1}},
{"data":{"values":[{"x":1227.6,"y":298.2,"x2":1385,"y2":226.5},{"x":1225.9,"y":310.3,"x2":1378,"y2":369.5},{"x":1217.8,"y":323.7,"x2":1317,"y2":442}]},"mark":{"type":"rule","stroke":"#000","strokeWidth":3},"encoding":{"x2":{"field":"x2"},"y2":{"field":"y2"}}},
{"data":{"values":[{"x":1394.3,"y":222.3}]},"mark":{"type":"point","shape":"M0 0L-30 -11L-22 0L-30 11Z","size":4,"filled":true,"fill":"#000","strokeWidth":0,"opacity":1,"angle":-24.5}},
{"data":{"values":[{"x":1387.4,"y":373.2}]},"mark":{"type":"point","shape":"M0 0L-30 -11L-22 0L-30 11Z","size":4,"filled":true,"fill":"#000","strokeWidth":0,"opacity":1,"angle":21.3}},
{"data":{"values":[{"x":1323.6,"y":450}]},"mark":{"type":"point","shape":"M0 0L-30 -11L-22 0L-30 11Z","size":4,"filled":true,"fill":"#000","strokeWidth":0,"opacity":1,"angle":50}},
{"data":{"values":[{"t":"A","x":20,"y":25},{"t":"B","x":20,"y":683},{"t":"C","x":951,"y":23}]},"mark":{"type":"text","fontSize":46,"fontWeight":"bold","color":"#000","font":"Liberation Sans"},"encoding":{"text":{"field":"t"}}},
{"data":{"values":[{"t":"iNKT","x":304,"y":732}]},"mark":{"type":"text","fontSize":41,"dy":2.5,"color":"#000","font":"Liberation Sans"},"encoding":{"text":{"field":"t"}}},
{"data":{"values":[{"t":"Srsf1","x":847,"y":732},{"t":"Srsf1","x":1499,"y":732}]},"mark":{"type":"text","fontSize":41,"dy":2.5,"fontStyle":"italic","color":"#000","font":"Liberation Sans"},"encoding":{"text":{"field":"t"}}},
{"data":{"values":[{"t":"iNKT-related genes","x":1196.3,"y":68.5}]},"mark":{"type":"text","fontSize":38.5,"dy":2.5,"color":"#C1272D","font":"Liberation Sans"},"encoding":{"text":{"field":"t"}}},
{"data":{"values":[{"t":"SRSF1","x":1131.6,"y":523},{"t":"binding genes","x":1132.8,"y":569}]},"mark":{"type":"text","fontSize":38.5,"dy":2.5,"color":"#1F1A70","font":"Liberation Sans"},"encoding":{"text":{"field":"t"}}},
{"data":{"values":[{"t":"83","x":1196.3,"y":210},{"t":"60","x":1196.3,"y":301},{"t":"6449","x":1196.3,"y":399}]},"mark":{"type":"text","fontSize":33,"dy":2.5,"color":"#fff","font":"Liberation Sans"},"encoding":{"text":{"field":"t"}}},
{"data":{"values":[{"t":"Others","x":1558.6,"y":103.6},{"t":"Survival","x":1352.3,"y":517}]},"mark":{"type":"text","fontSize":38,"dy":2.5,"fontWeight":"bold","color":"#000","font":"Liberation Sans"},"encoding":{"text":{"field":"t"}}},
{"data":{"values":[{"t":"Transcription","x":1497.7,"y":400},{"t":"factors","x":1497.7,"y":446}]},"mark":{"type":"text","fontSize":38.5,"dy":2.5,"fontWeight":"bold","align":"left","color":"#000","font":"Liberation Sans"},"encoding":{"text":{"field":"t"}}},
{"data":{"values":[{"t":"Cd1d1","x":1453.4,"y":148},{"t":"Sh2d1a","x":1572.4,"y":148},{"t":"Slamf1","x":1453.4,"y":191.5},{"t":"Slamf6","x":1572.4,"y":191.5},{"t":"Ctnnb1","x":1453.4,"y":234},{"t":"Wnt5a","x":1572.4,"y":234},{"t":"Rictor","x":1453.4,"y":277},{"t":"Il17ra","x":1572.4,"y":277},{"t":"Bcl6","x":1477.6,"y":495.5},{"t":"Gata3","x":1565.5,"y":495.5},{"t":"Junb","x":1671.8,"y":495.5},{"t":"Myb","x":1477.6,"y":539.3},{"t":"Nfkb1","x":1571,"y":539.3},{"t":"Tbx21","x":1674.7,"y":539.3}]},"mark":{"type":"text","fontSize":33.5,"dy":2.5,"fontStyle":"italic","align":"left","color":"#000","font":"Liberation Sans"},"encoding":{"text":{"field":"t"}}},
{"data":{"values":[{"t":"Bcl2l1","x":1358,"y":558},{"t":"Il15","x":1357,"y":597},{"t":"Fas","x":1357,"y":636}]},"mark":{"type":"text","fontSize":33.5,"dy":2.5,"fontStyle":"italic","color":"#000","font":"Liberation Sans"},"encoding":{"text":{"field":"t"}}}
]}
]}
